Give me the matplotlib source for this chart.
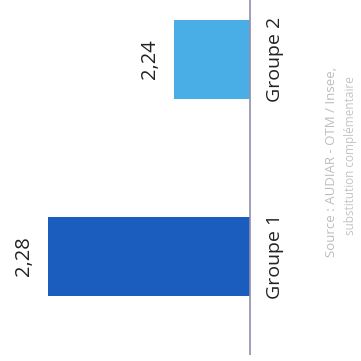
import matplotlib.pyplot as plt

# Valeurs du graphique
groupes = ['Groupe 1', 'Groupe 2']
valeurs = [2.28, 2.24]
etiquettes = ['2,28', '2,24']
couleurs = ['#1b5cbf', '#4aaee6']

base = 2.2159  # origine de l'axe (axe tronque)

plt.rcParams['font.family'] = ['Open Sans', 'DejaVu Sans']

fig = plt.figure(figsize=(3.61, 3.61), dpi=100)
ax = fig.add_axes([0, 0, 1, 1])

pos = [0, 1]
ax.barh(pos, [v - base for v in valeurs], left=base, height=0.40,
        color=couleurs, edgecolor='none')

ax.set_xlim(2.2953, 2.1807)
ax.set_ylim(-0.530, 1.302)

# ligne de base
ax.plot([base, base], [-0.50, 1.302], color='#8c90aa', lw=1.2, solid_capstyle='butt')

# libelles des groupes et valeurs
for p, g, v, e in zip(pos, groupes, valeurs, etiquettes):
    ax.text(base - 0.0078, p, g, rotation=90, ha='center', va='center',
            fontsize=14, color='#222222')
    ax.text(v + 0.0076, p, e, rotation=90, ha='center', va='center',
            fontsize=14.5, color='#222222')

# source
fig.text(0.918, 0.287, 'Source : AUDIAR - OTM / Insee,',
         rotation=90, ha='center', va='bottom', fontsize=9.5, color='#bdbdbd')
fig.text(0.972, 0.35, 'substitution complémentaire',
         rotation=90, ha='center', va='bottom', fontsize=8.5, color='#c4c4c4')

ax.axis('off')
fig.savefig('out.png', dpi=100)
